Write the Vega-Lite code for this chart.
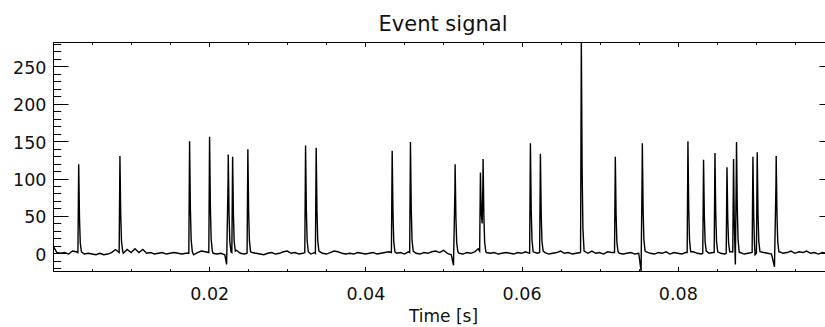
{
  "$schema": "https://vega.github.io/schema/vega-lite/v6.json",
  "width": 772,
  "height": 229,
  "autosize": {"type": "none"},
  "padding": {"left": 53, "top": 42, "right": 0, "bottom": 56},
  "background": "white",
  "title": {"text": "Event signal", "font": "DejaVu Sans", "fontSize": 21, "fontWeight": "normal", "color": "#111", "anchor": "middle", "dx": 4, "dy": 23, "baseline": "alphabetic", "offset": 13},
  "data": {"values": [
    {"t":0,"v":10},{"t":0.0005,"v":1},{"t":0.001,"v":0},{"t":0.0015,"v":1},{"t":0.002,"v":-1},{"t":0.0025,"v":3},{"t":0.003,"v":2},{"t":0.004,"v":-1},{"t":0.0045,"v":0},{"t":0.005,"v":-1},{"t":0.0055,"v":-2},{"t":0.006,"v":0},{"t":0.0065,"v":-2},{"t":0.007,"v":-1},{"t":0.0075,"v":1},{"t":0.008,"v":5},{"t":0.009,"v":0},{"t":0.0095,"v":5},{"t":0.01,"v":1},{"t":0.0105,"v":6},{"t":0.011,"v":1},{"t":0.0115,"v":5},{"t":0.012,"v":0},{"t":0.0125,"v":1},{"t":0.013,"v":-1},{"t":0.0135,"v":0},{"t":0.014,"v":1},{"t":0.0145,"v":-1},{"t":0.015,"v":0},{"t":0.0155,"v":1},{"t":0.016,"v":0},{"t":0.0165,"v":-1},{"t":0.017,"v":0},{"t":0.018,"v":-2},{"t":0.0185,"v":1},{"t":0.019,"v":3},{"t":0.0195,"v":2},{"t":0.0205,"v":0},{"t":0.021,"v":-1},{"t":0.0215,"v":0},{"t":0.022,"v":-2},{"t":0.0235,"v":4},{"t":0.024,"v":0},{"t":0.0245,"v":-1},{"t":0.0255,"v":1},{"t":0.026,"v":0},{"t":0.0265,"v":-1},{"t":0.027,"v":-2},{"t":0.0275,"v":0},{"t":0.028,"v":1},{"t":0.0285,"v":-1},{"t":0.029,"v":0},{"t":0.0295,"v":2},{"t":0.03,"v":3},{"t":0.0305,"v":0},{"t":0.031,"v":1},{"t":0.0315,"v":-1},{"t":0.032,"v":0},{"t":0.033,"v":-1},{"t":0.0335,"v":1},{"t":0.0345,"v":0},{"t":0.035,"v":-1},{"t":0.0355,"v":1},{"t":0.036,"v":3},{"t":0.0365,"v":2},{"t":0.037,"v":0},{"t":0.0375,"v":-1},{"t":0.038,"v":0},{"t":0.0385,"v":-1},{"t":0.039,"v":1},{"t":0.0395,"v":0},{"t":0.04,"v":-1},{"t":0.0405,"v":0},{"t":0.041,"v":1},{"t":0.0415,"v":-1},{"t":0.042,"v":0},{"t":0.0425,"v":1},{"t":0.043,"v":2},{"t":0.044,"v":0},{"t":0.0445,"v":1},{"t":0.045,"v":-1},{"t":0.0455,"v":2},{"t":0.0465,"v":0},{"t":0.047,"v":-1},{"t":0.0475,"v":1},{"t":0.048,"v":0},{"t":0.0485,"v":2},{"t":0.049,"v":3},{"t":0.0495,"v":1},{"t":0.05,"v":4},{"t":0.0505,"v":0},{"t":0.051,"v":-2},{"t":0.052,"v":0},{"t":0.0525,"v":-1},{"t":0.053,"v":1},{"t":0.0535,"v":0},{"t":0.054,"v":2},{"t":0.0555,"v":1},{"t":0.056,"v":0},{"t":0.0565,"v":1},{"t":0.057,"v":-1},{"t":0.0575,"v":0},{"t":0.058,"v":1},{"t":0.0585,"v":0},{"t":0.059,"v":-1},{"t":0.0595,"v":1},{"t":0.06,"v":0},{"t":0.0605,"v":2},{"t":0.061,"v":0},{"t":0.062,"v":0},{"t":0.063,"v":1},{"t":0.0635,"v":-1},{"t":0.064,"v":0},{"t":0.0645,"v":1},{"t":0.065,"v":3},{"t":0.0655,"v":0},{"t":0.066,"v":1},{"t":0.0665,"v":-1},{"t":0.067,"v":0},{"t":0.0675,"v":1},{"t":0.0685,"v":0},{"t":0.069,"v":3},{"t":0.0695,"v":0},{"t":0.07,"v":1},{"t":0.0705,"v":-1},{"t":0.071,"v":2},{"t":0.0715,"v":1},{"t":0.0725,"v":0},{"t":0.073,"v":-1},{"t":0.0735,"v":0},{"t":0.074,"v":1},{"t":0.0745,"v":-1},{"t":0.075,"v":0},{"t":0.076,"v":2},{"t":0.0765,"v":0},{"t":0.077,"v":-1},{"t":0.0775,"v":1},{"t":0.078,"v":0},{"t":0.0785,"v":2},{"t":0.079,"v":-1},{"t":0.0795,"v":1},{"t":0.08,"v":0},{"t":0.0805,"v":-1},{"t":0.081,"v":1},{"t":0.082,"v":2},{"t":0.0825,"v":0},{"t":0.083,"v":-1},{"t":0.084,"v":0},{"t":0.0845,"v":1},{"t":0.0855,"v":0},{"t":0.086,"v":-1},{"t":0.087,"v":2},{"t":0.088,"v":1},{"t":0.0885,"v":-1},{"t":0.089,"v":0},{"t":0.091,"v":1},{"t":0.0915,"v":0},{"t":0.092,"v":-1},{"t":0.093,"v":2},{"t":0.0935,"v":0},{"t":0.094,"v":1},{"t":0.0945,"v":3},{"t":0.095,"v":0},{"t":0.0955,"v":2},{"t":0.096,"v":1},{"t":0.0965,"v":3},{"t":0.097,"v":0},{"t":0.0975,"v":1},{"t":0.098,"v":-1},{"t":0.0985,"v":1},{"t":0.099,"v":0},
    {"t":0.00319,"v":1},{"t":0.00326,"v":83},{"t":0.00329,"v":119},{"t":0.00339,"v":48},{"t":0.00349,"v":14},{"t":0.00364,"v":2},
    {"t":0.00847,"v":1},{"t":0.00854,"v":91},{"t":0.00857,"v":130},{"t":0.00867,"v":52},{"t":0.00877,"v":16},{"t":0.00892,"v":3},
    {"t":0.01739,"v":0},{"t":0.01746,"v":105},{"t":0.01749,"v":150},{"t":0.01759,"v":60},{"t":0.01769,"v":18},{"t":0.01784,"v":2},
    {"t":0.01995,"v":1},{"t":0.02002,"v":109},{"t":0.02005,"v":156},{"t":0.02015,"v":62},{"t":0.02025,"v":19},{"t":0.0204,"v":3},
    {"t":0.02223,"v":-15},{"t":0.02241,"v":92},{"t":0.02244,"v":132},{"t":0.02254,"v":53},{"t":0.02264,"v":16},{"t":0.02279,"v":2},
    {"t":0.0229,"v":1},{"t":0.02297,"v":90},{"t":0.023,"v":129},{"t":0.0231,"v":52},{"t":0.0232,"v":15},{"t":0.02335,"v":3},
    {"t":0.02485,"v":0},{"t":0.02492,"v":97},{"t":0.02495,"v":139},{"t":0.02505,"v":56},{"t":0.02515,"v":17},{"t":0.0253,"v":2},
    {"t":0.03224,"v":1},{"t":0.03231,"v":101},{"t":0.03234,"v":144},{"t":0.03244,"v":58},{"t":0.03254,"v":17},{"t":0.03269,"v":2},
    {"t":0.0336,"v":0},{"t":0.03367,"v":99},{"t":0.0337,"v":141},{"t":0.0338,"v":56},{"t":0.0339,"v":17},{"t":0.03405,"v":3},
    {"t":0.04333,"v":1},{"t":0.0434,"v":96},{"t":0.04343,"v":137},{"t":0.04353,"v":55},{"t":0.04363,"v":16},{"t":0.04378,"v":2},
    {"t":0.04567,"v":1},{"t":0.04574,"v":104},{"t":0.04577,"v":149},{"t":0.04587,"v":60},{"t":0.04597,"v":18},{"t":0.04612,"v":3},
    {"t":0.05128,"v":-16},{"t":0.05146,"v":83},{"t":0.05149,"v":119},{"t":0.05159,"v":48},{"t":0.05169,"v":14},{"t":0.05184,"v":2},
    {"t":0.05445,"v":6},{"t":0.05463,"v":3},{"t":0.0547,"v":76},{"t":0.05473,"v":108},{"t":0.05483,"v":55},{"t":0.05495,"v":40},{"t":0.05504,"v":90},{"t":0.05507,"v":126},{"t":0.05517,"v":50},{"t":0.05527,"v":15},{"t":0.05542,"v":2},
    {"t":0.06103,"v":0},{"t":0.0611,"v":103},{"t":0.06113,"v":147},{"t":0.06123,"v":59},{"t":0.06133,"v":18},{"t":0.06148,"v":2},
    {"t":0.06231,"v":1},{"t":0.06238,"v":93},{"t":0.06241,"v":133},{"t":0.06251,"v":53},{"t":0.06261,"v":16},{"t":0.06276,"v":3},
    {"t":0.06755,"v":2},{"t":0.06762,"v":198},{"t":0.06765,"v":282.6},{"t":0.06775,"v":113},{"t":0.06785,"v":34},{"t":0.068,"v":3},
    {"t":0.0719,"v":1},{"t":0.07197,"v":90},{"t":0.072,"v":129},{"t":0.0721,"v":52},{"t":0.0722,"v":15},{"t":0.07235,"v":2},
    {"t":0.0753,"v":-23.7},{"t":0.07543,"v":103},{"t":0.07546,"v":147},{"t":0.07556,"v":59},{"t":0.07566,"v":18},{"t":0.07581,"v":3},
    {"t":0.0812,"v":1},{"t":0.08127,"v":105},{"t":0.0813,"v":150},{"t":0.0814,"v":60},{"t":0.0815,"v":18},{"t":0.08165,"v":2},
    {"t":0.0832,"v":0},{"t":0.08327,"v":88},{"t":0.0833,"v":125},{"t":0.0834,"v":50},{"t":0.0835,"v":15},{"t":0.08365,"v":3},
    {"t":0.08466,"v":1},{"t":0.08473,"v":94},{"t":0.08476,"v":134},{"t":0.08486,"v":54},{"t":0.08496,"v":16},{"t":0.08511,"v":2},
    {"t":0.0862,"v":0},{"t":0.08627,"v":81},{"t":0.0863,"v":115},{"t":0.0864,"v":46},{"t":0.0865,"v":14},{"t":0.08665,"v":2},
    {"t":0.08704,"v":1},{"t":0.08711,"v":88},{"t":0.08714,"v":126},{"t":0.08722,"v":50},{"t":0.0873,"v":15},{"t":0.08737,"v":-15},{"t":0.08749,"v":104},{"t":0.08752,"v":149},{"t":0.08762,"v":60},{"t":0.08772,"v":18},{"t":0.08787,"v":1},
    {"t":0.08952,"v":1},{"t":0.08959,"v":90},{"t":0.08962,"v":129},{"t":0.08972,"v":52},{"t":0.08982,"v":12},{"t":0.0899,"v":-2},
    {"t":0.09007,"v":0},{"t":0.09014,"v":95},{"t":0.09017,"v":135},{"t":0.09027,"v":54},{"t":0.09037,"v":16},{"t":0.09052,"v":2},
    {"t":0.09238,"v":-18},{"t":0.09257,"v":91},{"t":0.0926,"v":130},{"t":0.0927,"v":52},{"t":0.0928,"v":15},{"t":0.09295,"v":2}
  ]},
  "layer": [
    {
      "mark": {"type": "line", "color": "black", "strokeWidth": 1.4, "clip": true, "interpolate": "linear"},
      "encoding": {
        "x": {"field": "t", "type": "quantitative", "scale": {"domain": [0, 0.09885], "nice": false, "zero": false},
              "axis": {"orient": "bottom", "values": [0.02, 0.04, 0.06, 0.08], "format": ".2f", "ticks": false, "domain": true, "labelPadding": 28, "labelBaseline": "alphabetic", "title": "Time [s]", "titleX": 390, "titleY": 50, "titleBaseline": "alphabetic"}},
        "y": {"field": "v", "type": "quantitative", "scale": {"domain": [-23.7, 282.6], "nice": false, "zero": false},
              "axis": {"orient": "left", "values": [0, 50, 100, 150, 200, 250], "format": "d", "ticks": false, "domain": true, "labelPadding": 7, "labelBaseline": "middle", "labelOffset": 2, "title": null}}
      }
    },
    {
      "mark": {"type": "line", "opacity": 0},
      "encoding": {
        "x": {"field": "t", "type": "quantitative", "axis": {"orient": "bottom", "values": [0, 0.02, 0.04, 0.06, 0.08], "labels": false, "domain": false, "tickSize": -4.6, "title": null}},
        "y": {"field": "v", "type": "quantitative", "axis": {"orient": "left", "values": [0, 50, 100, 150, 200, 250], "labels": false, "domain": false, "tickSize": -15, "title": null}}
      }
    },
    {
      "mark": {"type": "line", "opacity": 0},
      "encoding": {
        "x": {"field": "t", "type": "quantitative", "axis": {"orient": "bottom", "values": [0.005, 0.01, 0.015, 0.025, 0.03, 0.035, 0.045, 0.05, 0.055, 0.065, 0.07, 0.075, 0.085, 0.09, 0.095], "labels": false, "domain": false, "tickSize": -2.3, "title": null}},
        "y": {"field": "v", "type": "quantitative", "axis": {"orient": "left", "values": [-20, -10, 10, 20, 30, 40, 60, 70, 80, 90, 110, 120, 130, 140, 160, 170, 180, 190, 210, 220, 230, 240, 260, 270, 280], "labels": false, "domain": false, "tickSize": -7.7, "title": null}}
      }
    },
    {
      "mark": {"type": "line", "opacity": 0},
      "encoding": {
        "x": {"field": "t", "type": "quantitative", "axis": {"orient": "top", "values": [0, 0.02, 0.04, 0.06, 0.08], "labels": false, "domain": true, "tickSize": -4.6, "title": null}},
        "y": {"field": "v", "type": "quantitative", "axis": {"orient": "right", "offset": 9, "values": [0, 50, 100, 150, 200, 250], "labels": false, "domain": true, "tickSize": -15, "title": null}}
      }
    },
    {
      "mark": {"type": "line", "opacity": 0},
      "encoding": {
        "x": {"field": "t", "type": "quantitative", "axis": {"orient": "top", "values": [0.005, 0.01, 0.015, 0.025, 0.03, 0.035, 0.045, 0.05, 0.055, 0.065, 0.07, 0.075, 0.085, 0.09, 0.095], "labels": false, "domain": false, "tickSize": -2.3, "title": null}},
        "y": {"field": "v", "type": "quantitative", "axis": {"orient": "right", "offset": 9, "values": [-20, -10, 10, 20, 30, 40, 60, 70, 80, 90, 110, 120, 130, 140, 160, 170, 180, 190, 210, 220, 230, 240, 260, 270, 280], "labels": false, "domain": false, "tickSize": -7.7, "title": null}}
      }
    }
  ],
  "resolve": {"axis": {"x": "independent", "y": "independent"}},
  "config": {
    "view": {"stroke": null},
    "axis": {
      "grid": false,
      "domainColor": "black",
      "domainWidth": 1,
      "tickColor": "black",
      "tickWidth": 1,
      "labelFont": "DejaVu Sans",
      "labelFontSize": 17.5,
      "labelFontWeight": "normal",
      "labelColor": "#111",
      "titleFont": "DejaVu Sans",
      "titleFontSize": 17,
      "titleFontWeight": "normal",
      "titleColor": "#111"
    }
  }
}
